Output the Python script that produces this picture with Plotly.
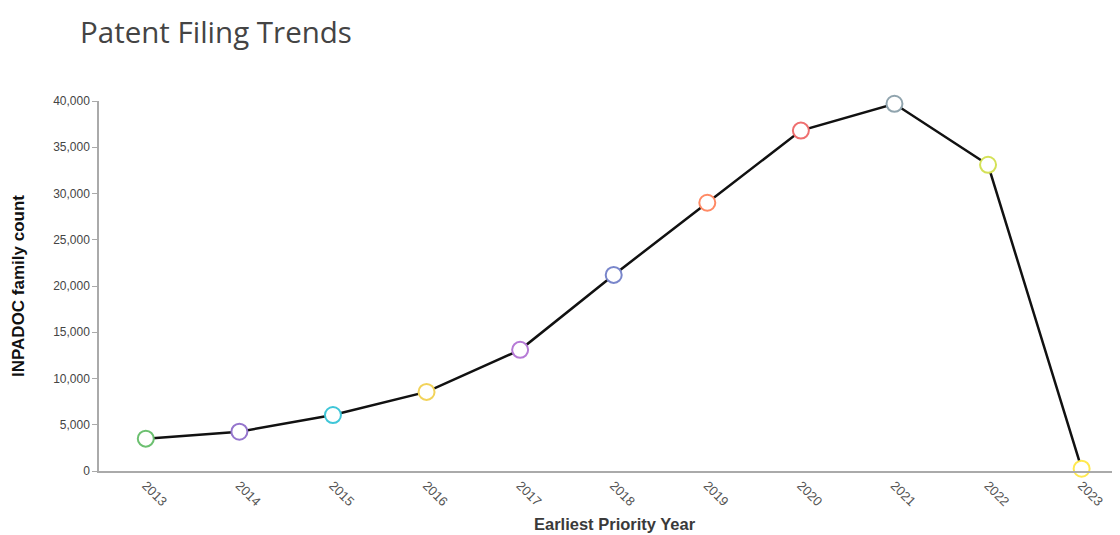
import plotly.graph_objects as go

years = [2013, 2014, 2015, 2016, 2017, 2018, 2019, 2020, 2021, 2022, 2023]
counts = [3500, 4250, 6050, 8550, 13100, 21200, 29000, 36800, 39700, 33100, 250]
marker_colors = ["#6cc070", "#9575cd", "#3fc6d8", "#f2d35a", "#b67ad6", "#7986cb",
                 "#ff8a65", "#ef6f6f", "#90a4ae", "#d4e157", "#ffe94f"]
y_ticks = [0, 5000, 10000, 15000, 20000, 25000, 30000, 35000, 40000]

W, H = 1112, 527
L, T, B = 91, 93, 64
PW, PH = W - L, H - T - B

fig = go.Figure()
fig.add_trace(go.Scatter(
    x=years, y=counts, mode="lines+markers",
    line=dict(color="#111111", width=2.5),
    marker=dict(size=16, color="white", line=dict(color=marker_colors, width=2)),
    cliponaxis=False, showlegend=False,
))

fig.update_layout(
    width=W, height=H, autosize=False,
    margin=dict(l=L, r=0, t=T, b=B),
    paper_bgcolor="white", plot_bgcolor="white",
    title=dict(text="Patent Filing Trends", x=72/W, xanchor="left", xref="container",
               y=1-25/H, yanchor="middle", yref="container",
               font=dict(family="Open Sans, sans-serif", size=29.5, color="#444444")),
    font=dict(family="Liberation Sans, Arial, sans-serif"),
)
fig.update_xaxes(
    range=[2012.5, 2023.41], tickmode="array", tickvals=years,
    ticktext=[str(y) for y in years], tickangle=45,
    tickfont=dict(size=13, color="#555555"),
    showgrid=False, zeroline=False, showline=True, linecolor="#aaaaaa", linewidth=1.5,
    ticks="",
)
fig.update_yaxes(
    range=[0, 40000], tickmode="array", tickvals=y_ticks,
    ticktext=[f"{v:,}" for v in y_ticks],
    tickfont=dict(size=12, color="#444444"),
    showgrid=False, zeroline=False, showline=True, linecolor="#aaaaaa", linewidth=1.5,
    ticks="outside", ticklen=5, tickcolor="#aaaaaa",
)
fig.add_annotation(text="<b>INPADOC family count</b>", xref="paper", yref="paper",
                   x=(18 - 99) / PW, y=0.5, textangle=-90, showarrow=False,
                   font=dict(size=17, color="#111111"), xanchor="center", yanchor="middle")
fig.add_annotation(text="<b>Earliest Priority Year</b>", xref="paper", yref="paper",
                   x=(615 - 99) / PW, y=-(524 - 471) / PH, showarrow=False,
                   font=dict(size=16.5, color="#3a3a3a"), xanchor="center", yanchor="middle")

fig.write_html("out.html")
